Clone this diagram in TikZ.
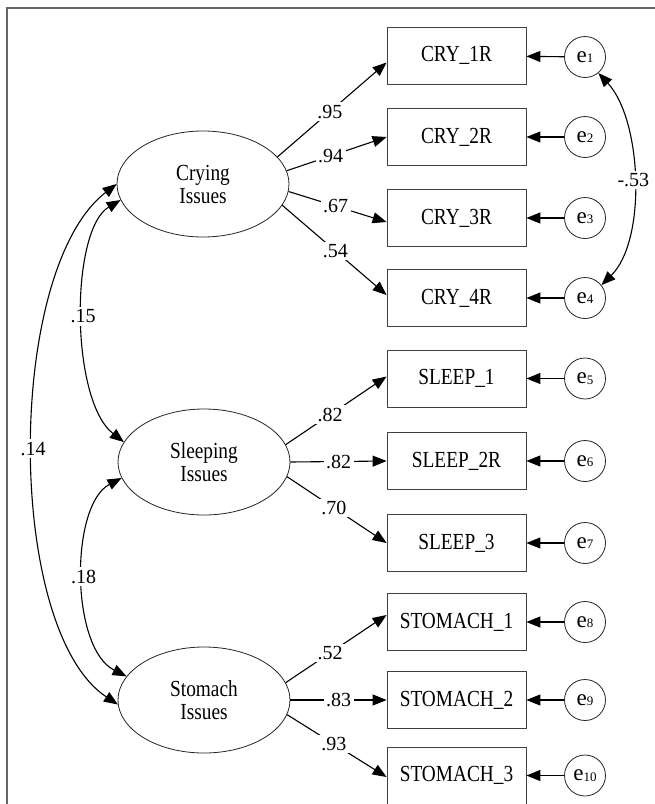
\documentclass[tikz,border=0pt]{standalone}
\usepackage{fontspec}
\setmainfont{Liberation Serif}
\newfontfamily\narrowserif[FakeStretch=0.84]{Liberation Serif}
\usetikzlibrary{shapes.geometric,arrows.meta,calc}
\newcommand{\ev}[1]{{\fontsize{23}{23}\selectfont e}\raisebox{-0.5pt}{\fontsize{13}{13}\selectfont #1}}
\begin{document}
\begin{tikzpicture}[x=1pt,y=-1pt,
  lat/.style={ellipse,draw=black!85,line width=0.8pt,minimum width=172pt,minimum height=106pt,inner sep=0pt,align=center,font=\narrowserif\fontsize{23}{23}\selectfont},
  obs/.style={rectangle,draw=black!75,line width=0.8pt,minimum width=139pt,minimum height=57pt,inner sep=0pt,font=\narrowserif\fontsize{23}{23}\selectfont},
  err/.style={circle,draw=black!85,line width=0.8pt,minimum size=41pt,inner sep=0pt},
  arr/.style={-{Triangle[length=14pt,width=11pt]},line width=1.1pt},
  cov/.style={{Triangle[length=14pt,width=11pt]}-{Triangle[length=14pt,width=11pt]},line width=1.1pt},
  lab/.style={fill=white,inner sep=2.5pt,font=\fontsize{20}{20}\selectfont}]
\fill[white] (0,0) rectangle (655,804);
\useasboundingbox (0,0) rectangle (655,804);
\draw[line width=1.6pt,black!60] (655,8) -- (7,8) -- (7,804);

% latent variables
\node[lat] (cry) at (203,184) {Crying\\Issues};
\node[lat] (slp) at (204,462) {Sleeping\\Issues};
\node[lat] (stm) at (204,700) {Stomach\\Issues};

% observed variables
\node[obs] (c1) at (456.5,55.5) {CRY\_1R};
\node[obs] (c2) at (456.5,137) {CRY\_2R};
\node[obs] (c3) at (456.5,218) {CRY\_3R};
\node[obs] (c4) at (456.5,298) {CRY\_4R};
\node[obs] (s1) at (456.5,378.5) {SLEEP\_1};
\node[obs] (s2) at (456.5,461) {SLEEP\_2R};
\node[obs] (s3) at (456.5,543) {SLEEP\_3};
\node[obs] (t1) at (456.5,622) {STOMACH\_1};
\node[obs] (t2) at (456.5,700) {STOMACH\_2};
\node[obs] (t3) at (456.5,775.5) {STOMACH\_3};

% errors
\node[err] (e1) at (585,57) {\ev{1}};
\node[err] (e2) at (585,137) {\ev{2}};
\node[err] (e3) at (585,218) {\ev{3}};
\node[err] (e4) at (585,298) {\ev{4}};
\node[err] (e5) at (585,378.5) {\ev{5}};
\node[err] (e6) at (585,461) {\ev{6}};
\node[err] (e7) at (585,543) {\ev{7}};
\node[err] (e8) at (585,622) {\ev{8}};
\node[err] (e9) at (585,700) {\ev{9}};
\node[err] (e10) at (585,775.5) {\ev{10}};

\foreach \e/\b in {e1/c1,e2/c2,e3/c3,e4/c4,e5/s1,e6/s2,e7/s3,e8/t1,e9/t2,e10/t3}
  \draw[arr] (\e) -- (\b);

% loadings
\draw[arr] (cry.20) -- node[lab,pos=0.48]{.95} ($(c1.west)+(0,7)$);
\draw[arr] (cry.9) -- node[lab,pos=0.44]{.94} (c2.west);
\draw[arr] (cry.-5) -- node[lab,pos=0.48]{.67} ($(c3.west)+(0,4)$);
\draw[arr] (cry.-15) -- node[lab,pos=0.51]{.54} ($(c4.west)+(0,-3)$);
\draw[arr] (slp.12) -- node[lab,pos=0.44]{.82} ($(s1.west)+(0,-2)$);
\draw[arr] (slp.0) -- node[lab,pos=0.5]{.82} (s2.west);
\draw[arr] (slp.-10) -- node[lab,pos=0.47]{.70} (s3.west);
\draw[arr] (stm.12) -- node[lab,pos=0.44]{.52} ($(t1.west)+(0,-7)$);
\draw[arr] (stm.0) -- node[lab,pos=0.5]{.83} (t2.west);
\draw[arr] (stm.-10) -- node[lab,pos=0.47]{.93} ($(t3.west)+(0,1.5)$);

% covariances
\draw[cov] (cry.191) .. controls (70,230) and (70,400) .. node[lab,pos=0.5]{.15} (slp.166);
\draw[cov] (slp.191) .. controls (70,505) and (70,648) .. node[lab,pos=0.5]{.18} (stm.163);
\draw[cov] (cry.180) .. controls (5,270) and (5,630) .. node[lab,pos=0.5]{.14} (stm.183);
\draw[cov] (e1.-50) .. controls (642,120) and (647,240) .. node[lab,pos=0.5]{-.53} (e4.38);
\end{tikzpicture}
\end{document}
